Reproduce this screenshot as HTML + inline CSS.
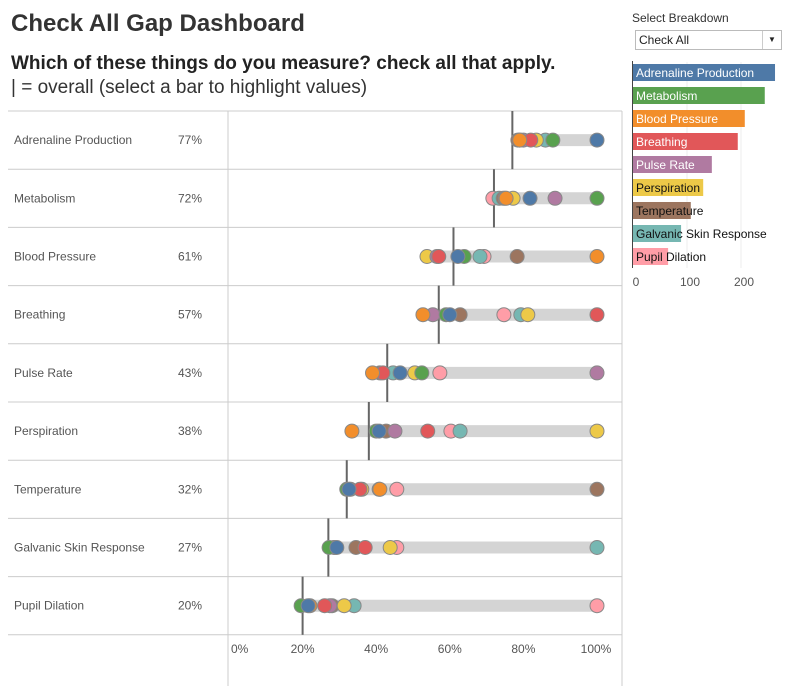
<!DOCTYPE html>
<html><head><meta charset="utf-8"><style>
body{margin:0;background:#fff;font-family:"Liberation Sans",sans-serif;width:790px;height:693px;overflow:hidden;position:relative}
.abs{position:absolute}
</style></head><body>
<div class="abs" style="left:11px;top:10px;font-size:24px;font-weight:bold;color:#333">Check All Gap Dashboard</div>
<div class="abs" style="left:11px;top:53px;font-size:19px;font-weight:bold;color:#222">Which of these things do you measure? check all that apply.</div>
<div class="abs" style="left:11px;top:77px;font-size:19px;color:#333">| = overall (select a bar to highlight values)</div>
<div class="abs" style="left:632px;top:11px;font-size:12px;color:#333">Select Breakdown</div>
<div class="abs" style="left:635px;top:30px;width:145px;height:18px;border:1px solid #bbb;font-size:12px;line-height:18px;color:#222"><span style="margin-left:3px">Check All</span><span style="position:absolute;right:0;top:0;width:18px;height:18px;border-left:1px solid #ccc;text-align:center;font-size:8px">▼</span></div>
<svg id="main" class="abs" style="left:0;top:0" width="790" height="693"></svg>
<script>
const cats=["Adrenaline Production","Metabolism","Blood Pressure","Breathing","Pulse Rate","Perspiration","Temperature","Galvanic Skin Response","Pupil Dilation"];
const overall=[77,72,61,57,43,38,32,27,20];
const colors=["#4e79a7","#59a14f","#f28e2b","#e15759","#b07aa1","#edc948","#9c755f","#76b7b2","#ff9da7"];
const counts=[263,244,207,194,146,130,107,89,65];
// values[row][series] in %, series order = cats
const values=[
[100,88,79,82,80,83.5,78.5,86,79],
[81.8,100,75.3,75,88.6,77.2,74.5,73.4,71.7],
[62.2,63.9,100,57,56.5,53.8,78.3,68.2,69.3],
[60,59,52.7,100,55.4,81.2,62.8,79.3,74.7],
[46.5,52.4,39,41.8,100,50.5,41,44.6,57.3],
[40.8,40,33.4,54,45.1,100,42.7,62.8,60.3],
[32.6,32,41,35.6,33,36.1,100,40.8,45.6],
[29.3,27.2,28.5,37,28.8,43.8,34.5,100,45.6],
[21.5,19.6,22,26,27.4,31.3,28,34,100]];
const ticks=[0,20,40,60,80,100];
const barTicks=[0,100,200];
const NS="http://www.w3.org/2000/svg",svg=document.getElementById('main');
function mk(t,a,p){const e=document.createElementNS(NS,t);for(const k in a)e.setAttribute(k,a[k]);(p||svg).appendChild(e);return e;}
const x=v=>229+v*3.68, top0=111, rh=58.2, ry=i=>top0+i*rh;
const bx=v=>633+v*0.54, by=i=>64+i*23;
let e;
e=mk('line',{x1:228,y1:111,x2:228,y2:686,stroke:'#ccc'});

e=mk('line',{x1:622,y1:111,x2:622,y2:686,stroke:'#ccc'});

for(let i=0;i<=cats.length;i++){e=mk('line',{x1:8,y1:ry(i),x2:622,y2:ry(i),stroke:'#ccc'});
}
cats.forEach((c,i)=>{
 const cy=ry(i)+rh/2;
 e=mk('text',{x:14,y:cy+4,'font-size':12,fill:'#555'});e.textContent=c;
 
 e=mk('text',{x:178,y:cy+4,'font-size':12,fill:'#555'});e.textContent=overall[i]+'%';
 
 const mn=Math.min(...values[i]);
 e=mk('line',{x1:x(mn),y1:cy,x2:x(100),y2:cy,stroke:'#d4d4d4','stroke-width':12});
 
 e=mk('line',{x1:x(overall[i]),y1:ry(i),x2:x(overall[i]),y2:ry(i+1),stroke:'#666','stroke-width':2});
 
 for(let j=values[i].length-1;j>=0;j--){const v=values[i][j];
 e=mk('circle',{cx:x(v),cy:cy,r:7,fill:colors[j],stroke:'#888','stroke-width':1});
 }
});
ticks.forEach(t=>{e=mk('text',{x:x(t)+(t==0?2:t==100?-1:0),y:653,'font-size':12,fill:'#555','text-anchor':t==0?'start':'middle'});e.textContent=t+'%';
});
barTicks.forEach(t=>{if(t>0){e=mk('line',{x1:bx(t),y1:62,x2:bx(t),y2:268,stroke:'#eee'});
}
e=mk('text',{x:bx(t)+3,y:286,'font-size':12,fill:'#555','text-anchor':'middle'});e.textContent=t;
});
cats.forEach((c,i)=>{
 e=mk('rect',{x:633,y:by(i),width:bx(counts[i])-633,height:17,fill:colors[i]});
 
 e=mk('text',{x:636,y:by(i)+13,'font-size':12,fill:i<5?'#fff':'#111'});e.textContent=c;
 
});
e=mk('line',{x1:632.5,y1:61,x2:632.5,y2:268,stroke:'#444'});

</script>
</body></html>
